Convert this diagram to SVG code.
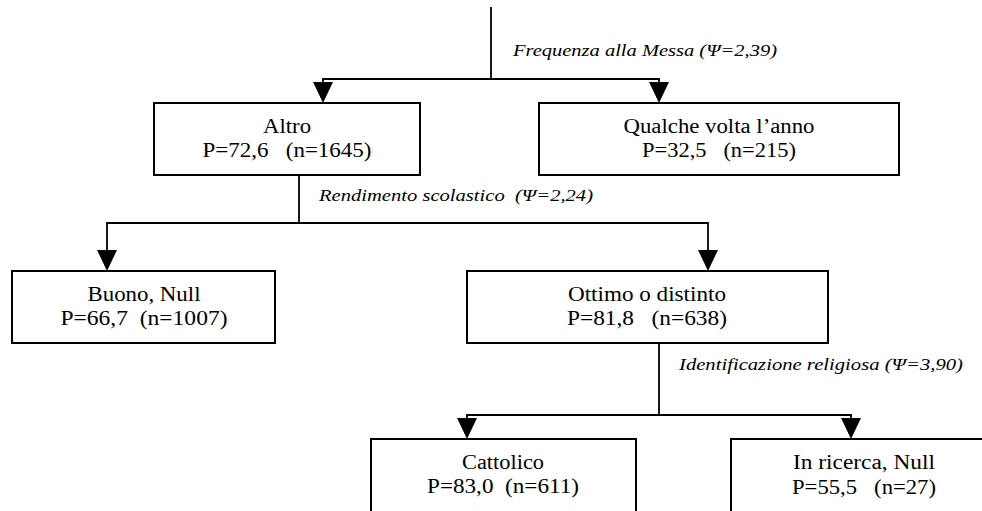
<svg xmlns="http://www.w3.org/2000/svg" width="982" height="511" viewBox="0 0 982 511">
<style>
.box{fill:#fff;stroke:#000;stroke-width:2}
.t{font-family:"Liberation Serif","Times New Roman",serif;font-size:20px;fill:#000;text-anchor:middle;white-space:pre}
.lab{font-family:"Liberation Serif","Times New Roman",serif;font-size:17px;font-style:italic;fill:#000;white-space:pre}
.ln{fill:none;stroke:#000;stroke-width:1.8}
.ah{fill:#000}
</style>
<rect width="982" height="511" fill="#fff"/>
<g id="connectors">
<path class="ln" d="M491,7 V79 M323,83 V79 H659 V83"/>
<path class="ln" d="M299,175 V223 M107,251 V223 H708 V251"/>
<path class="ln" d="M659,343 V415 M467,419 V415 H851 V419"/>
<polygon class="ah" points="313,82 333,82 323,103"/>
<polygon class="ah" points="649,82 669,82 659,103"/>
<polygon class="ah" points="97,250 117,250 107,271"/>
<polygon class="ah" points="698,250 718,250 708,271"/>
<polygon class="ah" points="457,418 477,418 467,439"/>
<polygon class="ah" points="841,418 861,418 851,439"/>
<text class="lab" x="513" y="56" textLength="264" lengthAdjust="spacingAndGlyphs">Frequenza alla Messa (Ψ=2,39)</text>
<text class="lab" x="319" y="201" textLength="274" lengthAdjust="spacingAndGlyphs">Rendimento scolastico  (Ψ=2,24)</text>
<text class="lab" x="679" y="370" textLength="284" lengthAdjust="spacingAndGlyphs">Identificazione religiosa (Ψ=3,90)</text>
</g>
<g id="altro">
<rect class="box" x="154" y="103" width="266" height="72"/>
<text class="t" x="287" y="133" textLength="48" lengthAdjust="spacingAndGlyphs">Altro</text>
<text class="t" x="287" y="157" textLength="169" lengthAdjust="spacingAndGlyphs">P=72,6   (n=1645)</text>
</g>
<g id="qualche">
<rect class="box" x="539" y="103" width="360" height="72"/>
<text class="t" x="719" y="133" textLength="191" lengthAdjust="spacingAndGlyphs">Qualche volta l’anno</text>
<text class="t" x="719" y="157" textLength="154" lengthAdjust="spacingAndGlyphs">P=32,5   (n=215)</text>
</g>
<g id="buono">
<rect class="box" x="12" y="271" width="263" height="72"/>
<text class="t" x="144" y="301" textLength="113" lengthAdjust="spacingAndGlyphs">Buono, Null</text>
<text class="t" x="144" y="325" textLength="167" lengthAdjust="spacingAndGlyphs">P=66,7  (n=1007)</text>
</g>
<g id="ottimo">
<rect class="box" x="467" y="271" width="361" height="72"/>
<text class="t" x="647" y="301" textLength="158" lengthAdjust="spacingAndGlyphs">Ottimo o distinto</text>
<text class="t" x="647" y="325" textLength="160" lengthAdjust="spacingAndGlyphs">P=81,8   (n=638)</text>
</g>
<g id="cattolico">
<rect class="box" x="371" y="439" width="265" height="80"/>
<text class="t" x="503" y="469" textLength="82" lengthAdjust="spacingAndGlyphs">Cattolico</text>
<text class="t" x="503" y="493" textLength="152" lengthAdjust="spacingAndGlyphs">P=83,0  (n=611)</text>
</g>
<g id="inricerca">
<rect class="box" x="731" y="439" width="266" height="80"/>
<text class="t" x="864" y="469" textLength="142" lengthAdjust="spacingAndGlyphs">In ricerca, Null</text>
<text class="t" x="864" y="494" textLength="144" lengthAdjust="spacingAndGlyphs">P=55,5   (n=27)</text>
</g>
</svg>
